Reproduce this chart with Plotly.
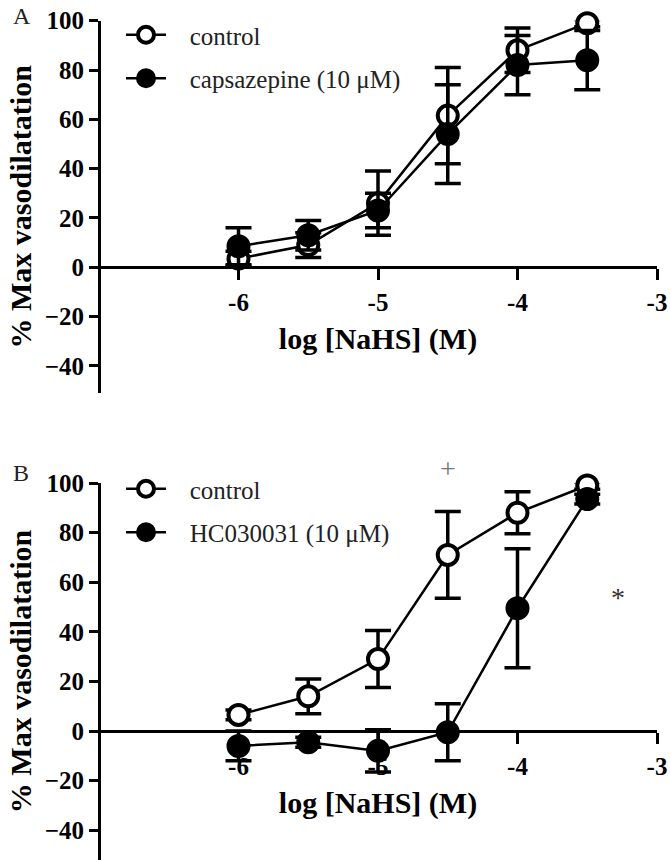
import plotly.graph_objects as go

# ---------------- data ----------------
log_nahs = [-6, -5.5, -5, -4.5, -4, -3.5]

a_control = [3.5, 9, 26, 61.5, 88, 99]
a_control_err = [3, 5, 13, 19.5, 9, 1.5]
a_capsazepine = [8.5, 13, 23, 54, 82, 84]
a_capsazepine_err = [7.5, 6, 7, 20, 12, 12]

b_control = [6.5, 14, 29, 71, 88, 99]
b_control_err = [2, 7, 11.5, 17.5, 8.5, 1.5]
b_hc = [-6, -4.5, -8, -0.5, 49.5, 93.5]
b_hc_err = [6, 2, 8.5, 11.5, 24, 2]

x_tickvals = [-6, -5, -4, -3]
y_tickvals = [-40, -20, 0, 20, 40, 60, 80, 100]

# ---------------- layout geometry ----------------
W, H = 670, 860
FONT = "Liberation Serif"

xdom = [99 / W, 657 / W]
yrangeA = [-51, 100]
yrangeB = [-52, 100]
ydomA = [1 - 393 / H, 1 - 20.7 / H]
ydomB = [0.0, 1 - 483 / H]


def zero_pos(dom, rng):
    return dom[0] + (0 - rng[0]) / (rng[1] - rng[0]) * (dom[1] - dom[0])


fig = go.Figure()

NB = "\u00a0\u00a0\u00a0"


def add_series(y, err, name, xaxis, yaxis, legend, group, filled):
    fig.add_trace(go.Scatter(
        x=log_nahs, y=y, name=NB + name, mode="lines+markers",
        xaxis=xaxis, yaxis=yaxis, legend=legend, legendgroup=group,
        line=dict(color="black", width=2.5),
        marker=dict(symbol="circle", size=20,
                    color="black" if filled else "white",
                    line=dict(color="black", width=4)),
        error_y=dict(type="data", array=err, visible=True,
                     color="black", thickness=3.5, width=13),
        cliponaxis=False,
    ))


add_series(a_control, a_control_err, "control", "x", "y", "legend", "a1", False)
add_series(a_capsazepine, a_capsazepine_err, "capsazepine (10 μM)", "x", "y", "legend", "a2", True)
add_series(b_control, b_control_err, "control", "x2", "y2", "legend2", "b1", False)
add_series(b_hc, b_hc_err, "HC030031 (10 μM)", "x2", "y2", "legend2", "b2", True)

tickfont = dict(family=FONT, size=25, color="black", weight="bold")
xtitlefont = dict(family=FONT, size=30, color="black", weight="bold")
ytitlefont = dict(family=FONT, size=30, color="black", weight="bold")

xcommon = dict(range=[-7, -3], tickvals=x_tickvals, ticktext=[str(v) for v in x_tickvals],
               showline=True, linecolor="black", linewidth=3, ticks="outside",
               ticklen=11, tickwidth=3, tickcolor="black", showgrid=False, zeroline=False,
               tickfont=tickfont, automargin=False, anchor="free", domain=xdom,
               ticklabelstandoff=1,
               title=dict(text="log [NaHS] (M)", font=xtitlefont, standoff=12))
ycommon = dict(tickvals=y_tickvals, showline=True, linecolor="black", linewidth=3,
               ticks="outside", ticklen=9, tickwidth=3, tickcolor="black",
               showgrid=False, zeroline=False, tickfont=tickfont, automargin=False,
               anchor="free", position=xdom[0],
               title=dict(text="% Max vasodilatation", font=ytitlefont, standoff=3))

legcommon = dict(font=dict(family=FONT, size=25, color="#222"), bgcolor="rgba(0,0,0,0)",
                 itemwidth=40, xanchor="left", yanchor="top", tracegroupgap=8,
                 traceorder="grouped")

fig.update_layout(
    width=W, height=H,
    margin=dict(l=0, r=0, t=0, b=0),
    paper_bgcolor="white", plot_bgcolor="white",
    template="none",
    xaxis=dict(**xcommon, position=zero_pos(ydomA, yrangeA)),
    yaxis=dict(**ycommon, range=yrangeA, domain=ydomA),
    xaxis2=dict(**xcommon, position=zero_pos(ydomB, yrangeB)),
    yaxis2=dict(**ycommon, range=yrangeB, domain=ydomB),
    legend=dict(**legcommon, x=121 / W, y=1 - 12 / H),
    legend2=dict(**legcommon, x=121 / W, y=1 - 466 / H),
    showlegend=True,
)

# panel letters
fig.add_annotation(text="A", x=22 / W, y=1 - 16 / H, xref="paper", yref="paper",
                   xanchor="center", yanchor="middle",
                   showarrow=False, font=dict(family=FONT, size=24, color="#222"))
fig.add_annotation(text="B", x=21 / W, y=1 - 473 / H, xref="paper", yref="paper",
                   xanchor="center", yanchor="middle",
                   showarrow=False, font=dict(family=FONT, size=24, color="#222"))


def dom_frac(v, rng):
    return (v - rng[0]) / (rng[1] - rng[0])


# significance marks in panel B
fig.add_annotation(text="+", x=-4.5, y=dom_frac(106, yrangeB), xref="x2", yref="y2 domain",
                   xanchor="center", yanchor="middle",
                   showarrow=False, font=dict(family=FONT, size=28, color="#777"))
fig.add_annotation(text="*", x=-3.28, y=dom_frac(54, yrangeB), xref="x2", yref="y2 domain",
                   xanchor="center", yanchor="middle",
                   showarrow=False, font=dict(family=FONT, size=28, color="#333"))

fig.write_html("out.html", post_script="document.body.style.margin='0';",
               config={"displayModeBar": False})
